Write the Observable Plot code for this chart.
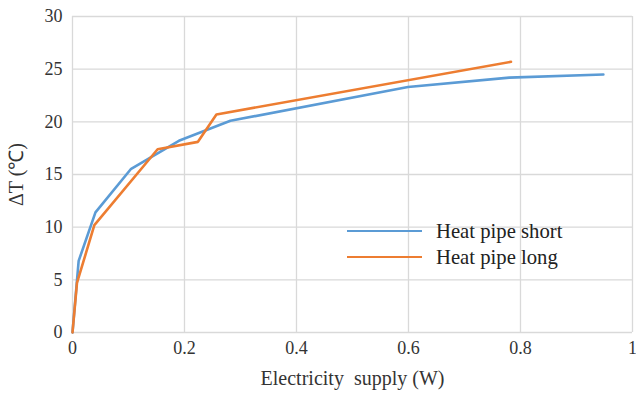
<!DOCTYPE html>
<html>
<head>
<meta charset="utf-8">
<script src="https://cdn.jsdelivr.net/npm/d3@7"></script>
<script src="https://cdn.jsdelivr.net/npm/@observablehq/plot@0.6"></script>
<style>
  html, body { margin: 0; padding: 0; background: #fff; }
  #wrap { position: relative; width: 636px; height: 394px; font-family: "Liberation Serif", serif; }
  .legend { position: absolute; left: 347px; top: 218px; font-size: 20.7px; color: #222; font-family: "Liberation Serif", serif; }
  .legend .row { display: flex; align-items: center; height: 26px; }
  .legend .sw { width: 75px; height: 2.8px; margin-right: 14px; }
</style>
</head>
<body>
<div id="wrap"></div>
<script>
const seriesNames = ["Heat pipe short", "Heat pipe long"];
const seriesColors = ["#5b9bd5", "#ed7d31"];

const shortX = [0, 0.011, 0.041, 0.104, 0.19, 0.282, 0.599, 0.78, 0.948];
const shortY = [0, 6.8, 11.4, 15.5, 18.2, 20.1, 23.3, 24.2, 24.5];

const longX = [0, 0.008, 0.039, 0.152, 0.224, 0.257, 0.783];
const longY = [0, 4.7, 10.2, 17.4, 18.1, 20.7, 25.7];

const xTicks = [0, 0.2, 0.4, 0.6, 0.8, 1];
const yTicks = [0, 5, 10, 15, 20, 25, 30];

const xLabel = "Electricity  supply (W)";
const yLabel = "\u0394T (\u2103)";

const data = [
  ...shortX.map((x, i) => ({x, y: shortY[i], s: seriesNames[0]})),
  ...longX.map((x, i) => ({x, y: longY[i], s: seriesNames[1]}))
];

const FONT = "Liberation Serif";

const chart = Plot.plot({
  width: 636,
  height: 394,
  marginLeft: 72,
  marginRight: 4,
  marginTop: 16,
  marginBottom: 62,
  style: { fontFamily: FONT, fontSize: "18px", color: "#333", background: "#fff" },
  x: { domain: [0, 1] },
  y: { domain: [0, 30] },
  color: { domain: seriesNames, range: seriesColors },
  marks: [
    Plot.gridX(xTicks, { stroke: "#d9d9d9", strokeOpacity: 1, strokeWidth: 1.3 }),
    Plot.gridY(yTicks, { stroke: "#d9d9d9", strokeOpacity: 1, strokeWidth: 1.3 }),
    Plot.axisX(xTicks, { tickSize: 0, tickPadding: 9, fontSize: 18, tickFormat: d => String(d), label: null }),
    Plot.axisX({ ticks: [], tickSize: 0, fontSize: 20, label: xLabel, labelArrow: "none", labelAnchor: "center", labelOffset: 52 }),
    Plot.axisY(yTicks, { tickSize: 0, tickPadding: 10, fontSize: 18, label: null }),
    Plot.axisY({ ticks: [], tickSize: 0, fontSize: 20, label: yLabel, labelArrow: "none", labelAnchor: "center", labelOffset: 64 }),
    Plot.line(data, { x: "x", y: "y", z: "s", stroke: "s", strokeWidth: 2.6, strokeLinejoin: "round", strokeLinecap: "round" })
  ]
});

const wrap = document.getElementById("wrap");
wrap.appendChild(chart);

const leg = document.createElement("div");
leg.className = "legend";
seriesNames.forEach((n, i) => {
  const row = document.createElement("div");
  row.className = "row";
  const sw = document.createElement("span");
  sw.className = "sw";
  sw.style.background = seriesColors[i];
  const t = document.createElement("span");
  t.textContent = n;
  row.appendChild(sw);
  row.appendChild(t);
  leg.appendChild(row);
});
wrap.appendChild(leg);
</script>
</body>
</html>
